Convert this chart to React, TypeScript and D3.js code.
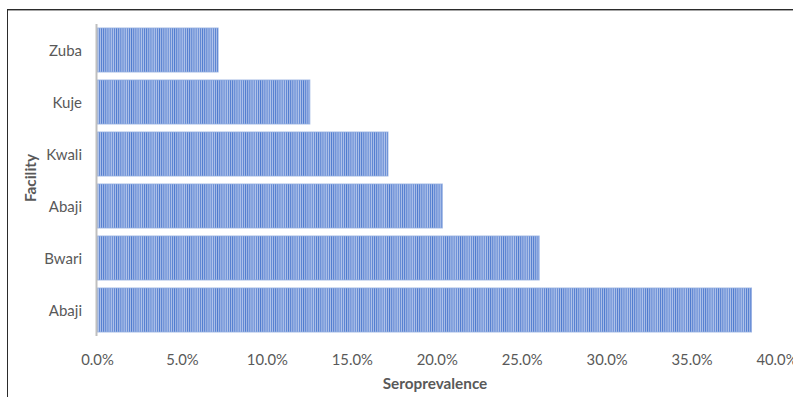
import React from "react";
import * as d3 from "d3";

const facilities = ["Zuba", "Kuje", "Kwali", "Abaji", "Bwari", "Abaji"];
const seroprevalence = [7.1, 12.5, 17.1, 20.3, 26.0, 38.5];
const xTicks = [0, 5, 10, 15, 20, 25, 30, 35, 40];

const W = 793;
const H = 397;
const FONT = "Lato, 'Open Sans', sans-serif";

export default function App() {
  const x = d3.scaleLinear().domain([0, 40]).range([97.5, 777]);
  const y = d3
    .scaleBand<number>()
    .domain(d3.range(facilities.length))
    .range([24, 336])
    .paddingInner(0.154)
    .paddingOuter(0.077);

  return (
    <svg
      width={W}
      height={H}
      viewBox={`0 0 ${W} ${H}`}
      style={{ position: "absolute", left: 0, top: 0, background: "#fff" }}
    >
      <defs>
        <pattern id="stripes" patternUnits="userSpaceOnUse" width={2.15} height={10}>
          <rect width={2.15} height={10} fill="#b2c4ea" />
          <rect width={0.95} height={10} fill="#4f7bcf" />
        </pattern>
      </defs>

      {/* chart frame */}
      <line x1={7.5} x2={W} y1={9.5} y2={9.5} stroke="#2b2b2b" strokeWidth={1} />
      <line x1={7} x2={W} y1={10.5} y2={10.5} stroke="#a6a6a6" strokeWidth={1} />
      <line x1={7.5} x2={7.5} y1={9} y2={H} stroke="#2b2b2b" strokeWidth={1} />

      {/* bars */}
      {seroprevalence.map((v, i) => (
        <rect
          key={i}
          x={x(0)}
          y={y(i)}
          width={x(v) - x(0)}
          height={y.bandwidth()}
          fill="url(#stripes)"
          stroke="#8eaadf"
          strokeWidth={1}
          strokeOpacity={0.8}
        />
      ))}

      {/* category axis line */}
      <line x1={96.5} x2={96.5} y1={24} y2={336} stroke="#bfbfbf" strokeWidth={2} />

      {/* category labels */}
      {facilities.map((f, i) => (
        <text
          key={i}
          x={82}
          y={(y(i) as number) + y.bandwidth() / 2}
          textAnchor="end"
          dominantBaseline="central"
          fontFamily={FONT}
          fontSize={15}
          fill="#595959"
        >
          {f}
        </text>
      ))}

      {/* value tick labels */}
      {xTicks.map((t) => (
        <text
          key={t}
          x={x(t)}
          y={359}
          textAnchor="middle"
          dominantBaseline="central"
          fontFamily={FONT}
          fontSize={14.8}
          fill="#595959"
        >
          {d3.format(".1f")(t) + "%"}
        </text>
      ))}

      {/* axis titles */}
      <text
        x={435}
        y={383}
        textAnchor="middle"
        dominantBaseline="central"
        fontFamily={FONT}
        fontSize={15.3}
        fontWeight="bold"
        fill="#595959"
      >
        Seroprevalence
      </text>
      <text
        transform="translate(30,178) rotate(-90)"
        textAnchor="middle"
        dominantBaseline="central"
        fontFamily={FONT}
        fontSize={15.3}
        fontWeight="bold"
        fill="#595959"
      >
        Facility
      </text>
    </svg>
  );
}
